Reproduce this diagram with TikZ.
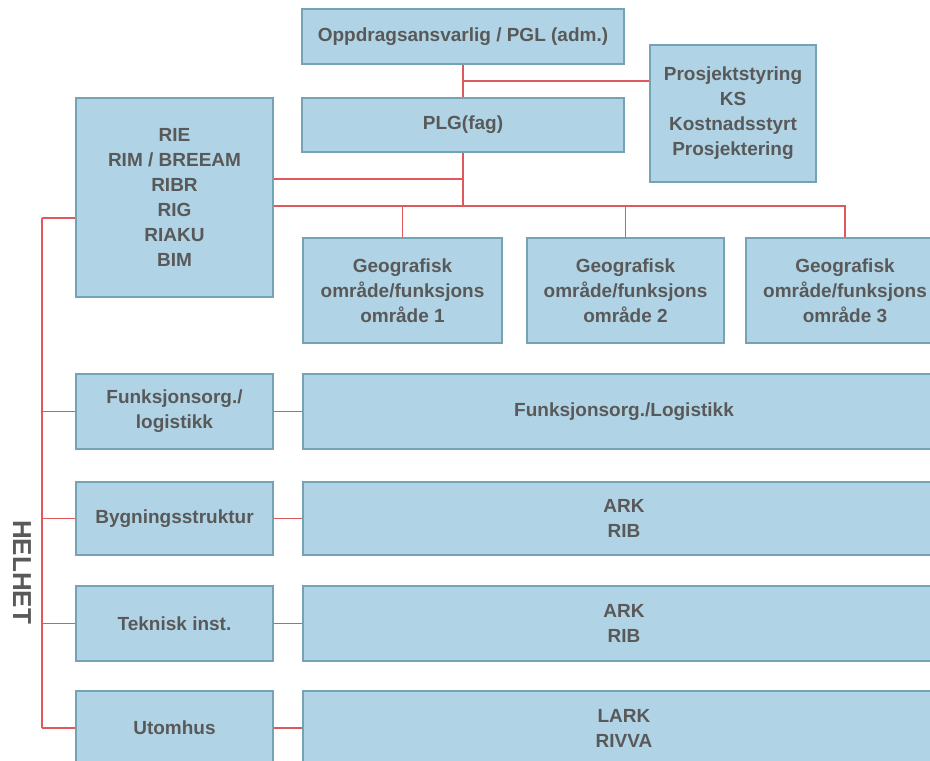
\documentclass[tikz,border=0pt]{standalone}
\usepackage{fontspec}
\setmainfont{Liberation Sans}
\usepackage{tikz}
\usetikzlibrary{calc}
\definecolor{boxfill}{HTML}{B0D4E6}
\definecolor{boxline}{HTML}{74A3B6}
\definecolor{linered}{HTML}{E0575C}
\definecolor{textgrey}{HTML}{595959}

\begin{document}
\begin{tikzpicture}[x=1pt,y=1pt,
  box/.style={draw=boxline,line width=1.2pt,fill=boxfill,align=center,inner sep=0pt,
    text=textgrey,font=\fontsize{19}{25}\selectfont\bfseries},
  link/.style={draw=linered,line width=1.4pt}]
\useasboundingbox (0,0) rectangle (930,-761);
\clip (0,0) rectangle (930,-761);
\node[box,minimum width=322,minimum height=55] (opp) at (463,-36.5) {Oppdragsansvarlig / PGL (adm.)};
\node[box,minimum width=322,minimum height=54] (plg) at (463,-125) {PLG(fag)};
\node[box,minimum width=166,minimum height=137] (styr) at (733,-113.5) {Prosjektstyring\\KS\\Kostnadsstyrt\\Prosjektering};
\node[box,minimum width=197,minimum height=199] (fag) at (174.5,-197.5) {RIE\\RIM / BREEAM\\RIBR\\RIG\\RIAKU\\BIM};
\node[box,minimum width=199,minimum height=105] (geoA) at (402.5,-290.5) {Geografisk\\område/funksjons\\område 1};
\node[box,minimum width=197,minimum height=105] (geoB) at (625.5,-290.5) {Geografisk\\område/funksjons\\område 2};
\node[box,minimum width=198,minimum height=105] (geoC) at (845,-290.5) {Geografisk\\område/funksjons\\område 3};
\node[box,minimum width=197,minimum height=75] (funk) at (174.5,-411.5) {Funksjonsorg./\\logistikk};
\node[box,minimum width=197,minimum height=73] (bygg) at (174.5,-518.5) {Bygningsstruktur};
\node[box,minimum width=197,minimum height=75] (tek) at (174.5,-623.5) {Teknisk inst.};
\node[box,minimum width=197,minimum height=74] (uto) at (174.5,-728) {Utomhus};
\node[box,minimum width=642,minimum height=75] (funk-r) at (624,-411.5) {Funksjonsorg./Logistikk};
\node[box,minimum width=642,minimum height=73] (bygg-r) at (624,-518.5) {ARK\\RIB};
\node[box,minimum width=642,minimum height=75] (tek-r) at (624,-623.5) {ARK\\RIB};
\node[box,minimum width=642,minimum height=74] (uto-r) at (624,-728) {LARK\\RIVVA};
\node[rotate=-90,text=textgrey,font=\fontsize{26}{26}\selectfont\bfseries] (helhet) at (22,-572) {HELHET};

\coordinate (j1) at ($(opp.south)!0.5!(plg.north)$);
\coordinate (j2) at (plg.south |- 0,-206);
\coordinate (hl) at (42,-218);
\draw[link] (opp.south) -- (plg.north);
\draw[link] (j1) -- (j1 -| styr.west);
\draw[link] (plg.south) -- (j2);
\draw[link] (fag.east |- 0,-179) -- (plg.south |- 0,-179);
\draw[link] (fag.east |- j2) -- (j2 -| geoC.north) -- (geoC.north);
\draw[link] (j2 -| geoA.north) -- (geoA.north);
\draw[link] (j2 -| geoB.north) -- (geoB.north);
\draw[link] (hl) -- (hl -| fag.west);
\draw[link] (hl) -- (hl |- uto.west);
\foreach \n in {funk,bygg,tek,uto} {
  \draw[link] (hl |- \n.west) -- (\n.west);
  \draw[link] (\n.east) -- (\n-r.west);
}
\end{tikzpicture}
\end{document}
